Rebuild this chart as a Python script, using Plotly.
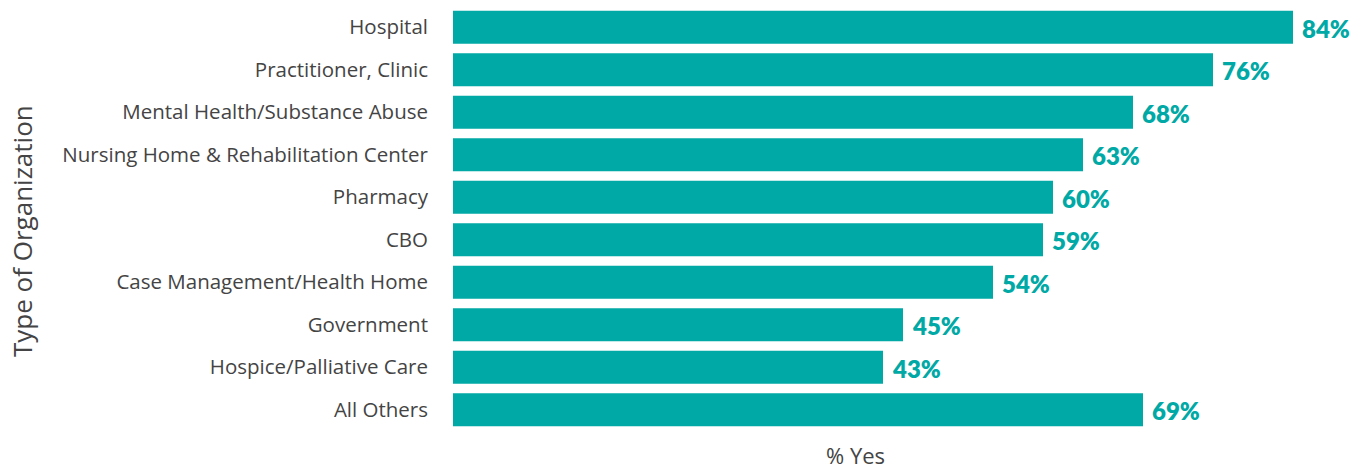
import plotly.graph_objects as go

categories = ["Hospital", "Practitioner, Clinic", "Mental Health/Substance Abuse",
              "Nursing Home & Rehabilitation Center", "Pharmacy", "CBO",
              "Case Management/Health Home", "Government", "Hospice/Palliative Care",
              "All Others"]
values = [84, 76, 68, 63, 60, 59, 54, 45, 43, 69]
labels = [f"{v}%" for v in values]

TEAL = "#00A9A5"
GREY = "#444444"

W, H = 1366, 469
L, R, T, B = 453, 0, 6, 38
PW = W - L - R
PH = H - T - B

fig = go.Figure(go.Bar(
    x=values, y=categories, orientation="h",
    marker=dict(color=TEAL, line=dict(width=0)),
    hoverinfo="skip",
))

for c, v, t in zip(categories, values, labels):
    fig.add_annotation(x=v, y=c, xref="x", yref="y", text=t, showarrow=False,
                       xanchor="left", yanchor="middle", xshift=7, yshift=-1,
                       font=dict(family="Lato", size=24, color=TEAL, weight=800))

fig.add_annotation(x=(855 - L) / PW, y=(H - B - 455) / PH, xref="paper", yref="paper",
                   text="% Yes", showarrow=False, xanchor="center", yanchor="middle",
                   font=dict(family="Open Sans", size=22, color=GREY))

fig.add_annotation(x=(22 - L) / PW, y=(H - B - 231) / PH, xref="paper", yref="paper",
                   text="Type of Organization", showarrow=False, textangle=-90,
                   xanchor="center", yanchor="middle",
                   font=dict(family="Open Sans", size=26, color=GREY))

fig.update_layout(
    width=W, height=H,
    margin=dict(l=L, r=R, t=T, b=B),
    paper_bgcolor="white", plot_bgcolor="white",
    bargap=0.22,
    showlegend=False,
    xaxis=dict(range=[0, 91.3], showgrid=False, zeroline=False, showticklabels=False,
               showline=False, fixedrange=True),
    yaxis=dict(autorange="reversed", showgrid=False, zeroline=False, showline=False,
               ticks="", ticklabelstandoff=24, fixedrange=True,
               tickfont=dict(family="Open Sans", size=20.5, color=GREY)),
)
fig.write_html("out.html", config={"displayModeBar": False},
               post_script="document.body.style.margin='0';")
